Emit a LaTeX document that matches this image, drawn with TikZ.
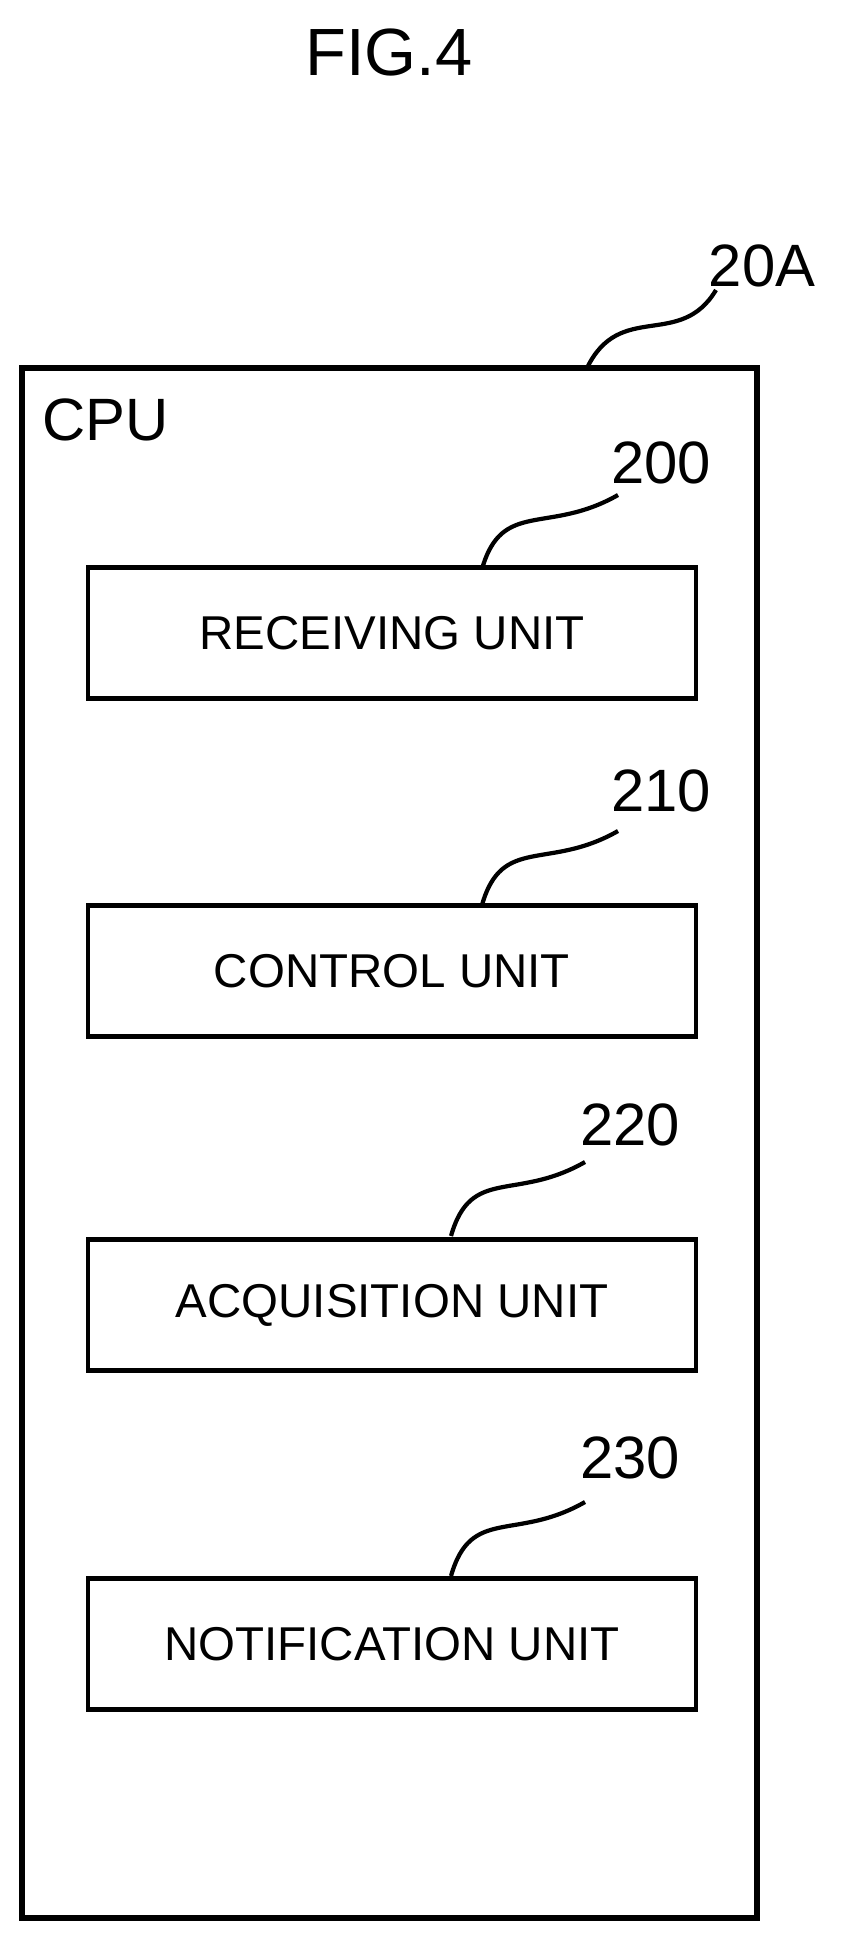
\documentclass[tikz,border=0pt]{standalone}
\usepackage{fontspec}
\setmainfont{Liberation Sans}
\usetikzlibrary{positioning}
\tikzset{unit/.style={draw,line width=1.2pt,minimum width=6.07cm,minimum height=1.31cm,font=\fontsize{13.5}{16}\selectfont},
  refnum/.style={font=\fontsize{17}{19}\selectfont},
  lead/.style={line width=1.2pt}}
\begin{document}
\begin{tikzpicture}[x=0.01cm,y=-0.01cm]
\useasboundingbox (0,0) rectangle (853,1956);

% title
\node [font=\fontsize{19}{21}\selectfont] (fig) at (389,52) {FIG.4};

% cpu frame
\draw [line width=1.5pt] (22,368) rectangle (757,1918);
\node [refnum,anchor=west] (cpu) at (30,420) {CPU};
\node [refnum] (lblA) at (762,266) {20A};
\coordinate (cA) at (587,368);
\coordinate (eA) at (716,290);
\draw [lead] (cA) .. controls (620,300) and (680,350) .. (eA);

% units
\node [unit] (recv) at (392,633) {RECEIVING UNIT};
\node [unit] (ctrl) at (392,971) {CONTROL UNIT};
\node [unit] (acq) at (392,1305) {ACQUISITION UNIT};
\node [unit] (noti) at (392,1644) {NOTIFICATION UNIT};

% reference numbers
\node [refnum] (n200) at (661,463) {200};
\node [refnum] (n210) at (661,791) {210};
\node [refnum] (n220) at (630,1125) {220};
\node [refnum] (n230) at (630,1458) {230};
\coordinate (s200) at (482,569);  \coordinate (e200) at (618,495);
\coordinate (s210) at (482,905);  \coordinate (e210) at (618,831);
\coordinate (s220) at (451,1236); \coordinate (e220) at (585,1162);
\coordinate (s230) at (451,1576); \coordinate (e230) at (585,1502);
\foreach \n in {200,210,220,230}
  \draw [lead] (s\n) .. controls +(20,-70) and +(-70,40) .. (e\n);
\end{tikzpicture}
\end{document}
